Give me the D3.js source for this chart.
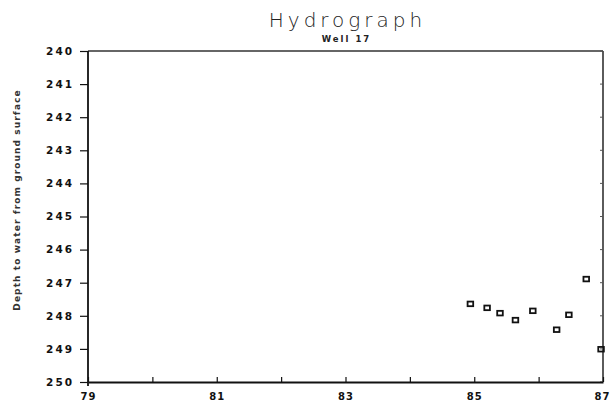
<!DOCTYPE html>
<html>
<head>
<meta charset="utf-8">
<script src="https://cdn.jsdelivr.net/npm/d3@7"></script>
<style>
  body { margin: 0; background: #fff; }
  svg { display: block; }
</style>
</head>
<body>
<div id="chart"></div>
<script>
// readings from the hydrograph (year, depth to water in ft)
var years = [84.94, 85.20, 85.40, 85.64, 85.91, 86.28, 86.47, 86.74, 86.97]
var depths = [247.64, 247.76, 247.92, 248.13, 247.85, 248.42, 247.97, 246.89, 249.01]
var xTicks = [79, 80, 81, 82, 83, 84, 85, 86, 87]
var xTickLabels = [79, 81, 83, 85, 87]
var yTicks = [240, 241, 242, 243, 244, 245, 246, 247, 248, 249, 250]

var W = 611, H = 407
var margin = {top: 51, right: 8, bottom: 25, left: 88},
  width = W - margin.left - margin.right,
  height = H - margin.top - margin.bottom;

var svg = d3.select("#chart")
  .append("svg")
  .attr("width", W)
  .attr("height", H)

var g = svg.append("g")
  .attr("transform", "translate(" + margin.left + "," + margin.top + ")");

var x = d3.scaleLinear().domain([79, 87]).range([0, width])
var y = d3.scaleLinear().domain([240, 250]).range([0, height])

// frame: top and right edges
g.append("line").attr("x1", 0).attr("x2", width).attr("y1", 0).attr("y2", 0)
  .attr("stroke", "#333").attr("stroke-width", 1.6)
g.append("line").attr("x1", width).attr("x2", width).attr("y1", 0).attr("y2", height)
  .attr("stroke", "#333").attr("stroke-width", 1.6)
g.selectAll(".rtick").data(yTicks).enter().append("line")
  .attr("x1", width - 3).attr("x2", width)
  .attr("y1", function(d) { return y(d); }).attr("y2", function(d) { return y(d); })
  .attr("stroke", "#555").attr("stroke-width", 1)

// X axis, ticks pointing up into the plot
var xAxis = g.append("g")
  .attr("transform", "translate(0," + height + ")")
  .call(d3.axisBottom(x).tickValues(xTicks).tickSizeInner(-5).tickSizeOuter(0)
    .tickFormat(function(d) { return xTickLabels.indexOf(d) >= 0 ? d : ""; }))
xAxis.select(".domain").attr("stroke", "#111").attr("stroke-width", 1.8)
xAxis.selectAll(".tick line").attr("stroke", "#111").attr("stroke-width", 1.2)
xAxis.selectAll(".tick text")
  .attr("y", 11)
  .attr("dy", "0.71em")
  .attr("font-family", "DejaVu Sans")
  .attr("font-weight", "bold")
  .attr("font-size", 10)
  .attr("letter-spacing", 1)
  .attr("fill", "#111")
// keep the last label inside the window
xAxis.selectAll(".tick text").filter(function(d) { return d === 87; })
  .attr("text-anchor", "end").attr("dx", 7)

// Y axis
var yAxis = g.append("g")
  .call(d3.axisLeft(y).tickValues(yTicks).tickSizeInner(8).tickSizeOuter(0).tickPadding(6))
yAxis.select(".domain").attr("stroke", "#111").attr("stroke-width", 1.8)
  .attr("d", "M0,0V" + (height + 4))
yAxis.selectAll(".tick line").attr("stroke", "#111").attr("stroke-width", 1.2)
yAxis.selectAll(".tick text")
  .attr("font-family", "DejaVu Sans")
  .attr("font-weight", "bold")
  .attr("font-size", 10.5)
  .attr("letter-spacing", 2)
  .attr("fill", "#111")

// titles
svg.append("text")
  .attr("x", margin.left + width / 2 + 2).attr("y", 27)
  .attr("text-anchor", "middle")
  .attr("font-family", "DejaVu Sans")
  .attr("font-weight", 200)
  .attr("font-size", 20)
  .attr("letter-spacing", 4)
  .attr("fill", "#222")
  .text("Hydrograph")
svg.append("text")
  .attr("x", margin.left + width / 2 + 1).attr("y", 42)
  .attr("text-anchor", "middle")
  .attr("font-family", "DejaVu Sans")
  .attr("font-weight", "bold")
  .attr("font-size", 8.5)
  .attr("letter-spacing", 2)
  .attr("fill", "#222")
  .text("Well 17")
svg.append("text")
  .attr("transform", "translate(20,200) rotate(-90)")
  .attr("text-anchor", "middle")
  .attr("font-family", "DejaVu Sans")
  .attr("font-weight", "bold")
  .attr("font-size", 9)
  .attr("letter-spacing", 1.1)
  .attr("fill", "#333")
  .text("Depth to water from ground surface")

// data points as open squares
var data = years.map(function(d, i) { return {year: d, depth: depths[i]}; })
g.selectAll("rect.pt").data(data).enter().append("rect")
  .attr("class", "pt")
  .attr("x", function(d) { return x(d.year) - 2.8; })
  .attr("y", function(d) { return y(d.depth) - 2.3; })
  .attr("width", 5.6)
  .attr("height", 4.6)
  .attr("fill", "none")
  .attr("stroke", "#111")
  .attr("stroke-width", 1.8)
</script>
</body>
</html>
